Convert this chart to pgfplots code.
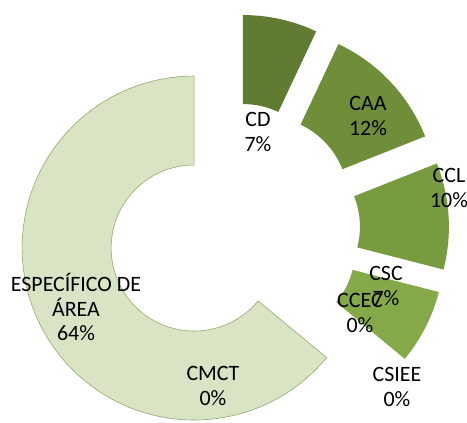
\documentclass[border=0pt]{standalone}
\usepackage{pgfplots}
\pgfplotsset{compat=1.18}
\usepackage{fontspec}
\setmainfont{Carlito}
\definecolor{cCD}{RGB}{96,124,50}
\definecolor{cCAA}{RGB}{110,142,58}
\definecolor{cCCL}{RGB}{121,155,64}
\definecolor{cCSC}{RGB}{133,168,72}
\definecolor{cESP}{RGB}{216,228,196}
\definecolor{cESPb}{RGB}{150,168,112}
% #1 cumulative start (percent), #2 value (percent), #3 style
\newcommand\slice[3]{%
  \pgfmathsetmacro\aS{90-3.6*#1}%
  \pgfmathsetmacro\aE{90-3.6*(#1+#2)}%
  \pgfmathsetmacro\aM{(\aS+\aE)/2}%
  \edef\tmp{\noexpand\path[#3, shift={(axis cs:233.5,193.5)}, shift={(\aM:43.5bp)}]
    (\aS:172bp) arc[start angle=\aS, end angle=\aE, radius=172bp]
    -- (\aE:83bp) arc[start angle=\aE, end angle=\aS, radius=83bp] -- cycle;}%
  \tmp
}
\begin{document}
\begin{tikzpicture}
\useasboundingbox (0,0) rectangle (467bp,423bp);
\begin{axis}[x=1bp, y=1bp, xmin=0, xmax=467, ymin=0, ymax=423,
  hide axis, scale only axis, clip=false, anchor=south west, at={(0,0)}]
\addplot[draw=none] coordinates {(0,0) (467,423)};
% values: CD 7, CAA 12, CCL 10, CSC 7, CCEC 0, CSIEE 0, CMCT 0, ESPECIFICO 64
\slice{0}{7}{fill=cCD}
\slice{7}{12}{fill=cCAA}
\slice{19}{10}{fill=cCCL}
\slice{29}{7}{fill=cCSC}
\slice{36}{64}{fill=cESP, draw=cESPb, line width=0.6bp}
\tikzset{lbl/.style={font=\fontsize{22}{25}\selectfont, align=center, inner sep=0pt, text=black}}
\node[lbl] at (axis cs:258,291) {CD\\7\%};
\node[lbl] at (axis cs:368,307) {CAA\\12\%};
\node[lbl] at (axis cs:449,235) {CCL\\10\%};
\node[lbl] at (axis cs:386,137) {CSC\\7\%};
\node[lbl] at (axis cs:360,110) {CCEC\\0\%};
\node[lbl] at (axis cs:397,36) {CSIEE\\0\%};
\node[lbl] at (axis cs:213,37) {CMCT\\0\%};
\node[lbl] at (axis cs:76,116) {ESPECÍFICO DE\\ÁREA\\64\%};
\end{axis}
\end{tikzpicture}
\end{document}
